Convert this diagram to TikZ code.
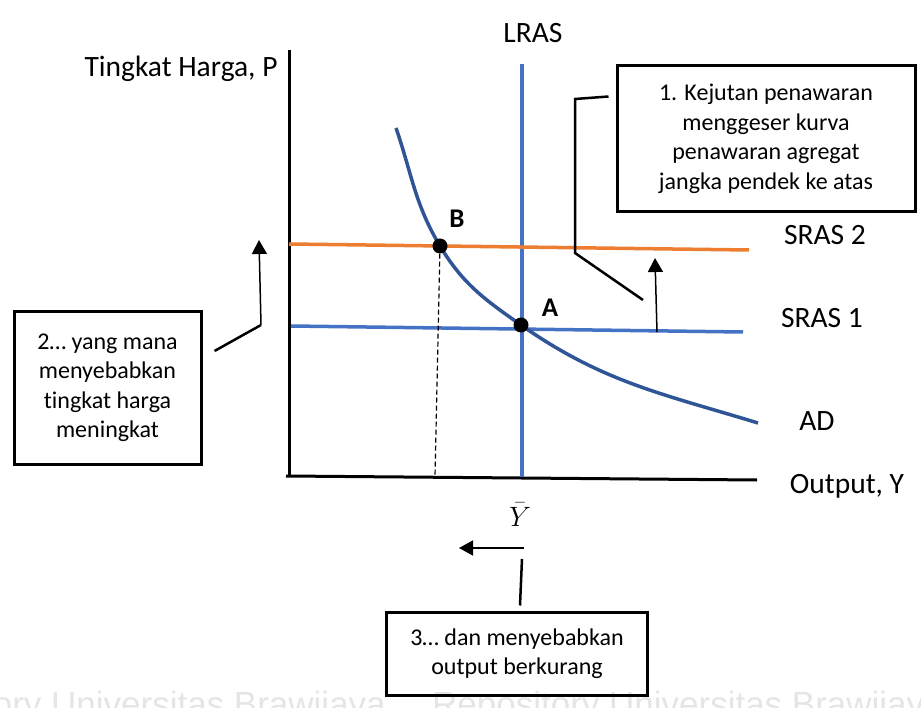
\RequirePackage{fix-cm}
\documentclass[tikz,border=0pt]{standalone}
\usepackage{fontspec}
\setmainfont{Carlito}[Ligatures=NoCommon]
\newfontfamily\wmfont{Liberation Sans}
\usetikzlibrary{arrows.meta}

\definecolor{srasorange}{HTML}{ED7D31}
\definecolor{srasblue}{HTML}{4472C4}
\definecolor{adblue}{HTML}{2F5597}

\tikzset{
  lbl/.style={anchor=base, inner sep=0pt, font=\fontsize{29.5}{34}\selectfont},
  ptlbl/.style={anchor=base, inner sep=0pt, font=\fontsize{27}{30}\selectfont\bfseries},
  note/.style={draw, line width=3pt, align=center, inner sep=0pt, font=\fontsize{24}{29.5}\selectfont},
  conn/.style={line width=2.5pt},
  shiftarrow/.style={line width=1.5pt, -{Triangle[length=14pt,width=15pt]}},
  dot/.style={circle, fill=black, inner sep=0pt, minimum size=15pt},
  wmark/.style={inner sep=0pt, text=gray!20, font=\wmfont\fontsize{35}{40}\selectfont},
}

\begin{document}
\begin{tikzpicture}[x=1pt, y=-1pt]
\useasboundingbox (0,0) rectangle (921,708);

% watermark
\begin{scope}
  \clip (0,0) rectangle (921,708);
  \node[wmark, anchor=base east] (wm1) at (386,716) {Repository Universitas Brawijaya};
  \node[wmark, anchor=base west] (wm2) at (432,716) {Repository Universitas Brawijaya};
\end{scope}

% axes
\coordinate (ytop) at (289,50);
\coordinate (O) at (289,477);
\coordinate (xend) at (757,480);
\draw[line width=3pt] (ytop) -- (O);
\draw[line width=3pt] (286,476) -- (xend);

% LRAS and SRAS
\draw[srasblue, line width=3.5pt] (522,64) -- (522,477);
\draw[srasorange, line width=3.5pt] (289,244) -- (749,250);
\draw[srasblue, line width=3.5pt] (291,326) -- (743,332);

% AD
\coordinate (adstart) at (396,128);
\coordinate (pB) at (440,246);
\coordinate (pA) at (521,325);
\coordinate (adend) at (758,423);
\draw[adblue, line width=3.5pt] (adstart) to[out=-71, in=121] (pB)
  to[out=-59, in=145] (pA) to[out=-35, in=163] (adend);

% points
\node[dot] (B) at (pB) {};
\node[dot] (A) at (pA) {};
\coordinate (Bx) at (435,477);
\draw[line width=1.2pt, dash pattern=on 5pt off 3pt] (B) -- (Bx);

% labels
\node[lbl] (plbl) at (181,77) {Tingkat Harga, P};
\node[lbl] (lras) at (533,43) {LRAS};
\node[lbl] (sras2) at (825,245) {SRAS 2};
\node[lbl] (sras1) at (822,328) {SRAS 1};
\node[lbl] (ad) at (817,430) {AD};
\node[lbl] (ylbl) at (847,493) {Output, Y};
\node[anchor=base, inner sep=0pt, font=\fontsize{28}{32}\selectfont] (ybar) at (520,526) {$\bar{Y}$};
\node[ptlbl] (blbl) at (457,228) {B};
\node[ptlbl] (albl) at (550,317) {A};

% notes
\node[note, minimum width=298pt, minimum height=146pt] (box1) at (766,139)
  {1. Kejutan penawaran\\menggeser kurva\\penawaran agregat\\jangka pendek ke atas};
\node[note, minimum width=187pt, minimum height=152pt] (box2) at (107.5,388)
  {2… yang mana\\menyebabkan\\tingkat harga\\meningkat};
\node[note, minimum width=261pt, minimum height=83pt] (box3) at (517,653.5)
  {3… dan menyebabkan\\output berkurang};

% connectors
\coordinate (k1) at (575,99);
\coordinate (k2) at (575,253);
\coordinate (k3) at (643,300);
\draw[conn] ([shift={(-7,32)}]box1.north west) -- (k1) -- (k2) -- (k3);

\coordinate (up1a) at (657,332);
\coordinate (up1b) at (655,258);
\draw[shiftarrow] (up1a) -- (up1b);

\coordinate (k4) at (261,325);
\coordinate (up2) at (259,240);
\draw[conn] ([shift={(12,-37)}]box2.east) -- (k4);
\draw[shiftarrow] (k4) -- (up2);

\coordinate (l1) at (524,548);
\coordinate (l2) at (459,548);
\draw[shiftarrow] (l1) -- (l2);
\coordinate (k5) at (522,559);
\draw[conn] ([shift={(3,-5)}]box3.north) -- (k5);

\end{tikzpicture}
\end{document}
